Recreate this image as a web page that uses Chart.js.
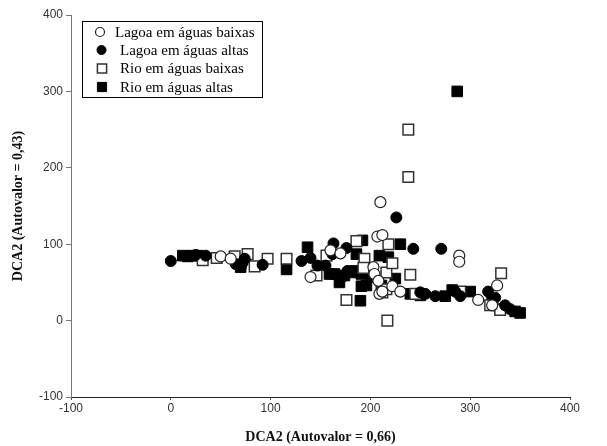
<!DOCTYPE html>
<html>
<head>
<meta charset="utf-8">
<script src="https://cdn.jsdelivr.net/npm/chart.js@4"></script>
<style>
  html, body { margin: 0; padding: 0; background: #fff; }
  #wrap { width: 607px; height: 446px; }
</style>
</head>
<body>
<div id="wrap"><canvas id="chart" width="607" height="446"></canvas></div>
<script>
// series labels
const seriesLabels = ['Lagoa em águas baixas', 'Lagoa em águas altas', 'Rio em águas baixas', 'Rio em águas altas'];

// axis ticks
const xTicks = [-100, 0, 100, 200, 300, 400];
const yTicks = [-100, 0, 100, 200, 300, 400];

// [x, y] pairs
const lagoaBaixas = [
  [50, 84], [60, 81], [140, 57], [160, 92], [170, 88], [203, 70], [204, 61], [208, 52],
  [209, 35], [212, 38], [207, 110], [212, 112], [210, 155], [222, 45], [230, 38],
  [289, 85], [289, 77], [308, 27], [327, 46], [322, 20]
];
const lagoaAltas = [
  [0, 78], [25, 86], [35, 85], [65, 74], [72, 76], [70, 70], [74, 81], [92, 73],
  [131, 78], [140, 82], [147, 72], [155, 72], [163, 101], [176, 95], [162, 87],
  [177, 65], [172, 57], [226, 135], [243, 94], [250, 37], [255, 35], [265, 32],
  [271, 94], [285, 38], [290, 32], [318, 38], [325, 30], [335, 20], [340, 15]
];
const rioBaixas = [
  [32, 79], [46, 82], [64, 84], [77, 87], [84, 71], [97, 81], [116, 81], [146, 59],
  [156, 85], [186, 104], [194, 81], [193, 69], [216, 63], [212, 37], [216, 41],
  [176, 27], [217, 0], [218, 100], [238, 250], [238, 188], [222, 75], [240, 60],
  [245, 35], [290, 38], [331, 62], [320, 20], [330, 14]
];
const rioAltas = [
  [12, 85], [17, 84], [22, 85], [27, 85], [70, 70], [116, 67], [137, 96], [159, 61],
  [169, 50], [174, 59], [183, 63], [191, 45], [196, 46], [201, 57], [164, 61],
  [184, 65], [191, 61], [201, 61], [186, 87], [192, 105], [209, 85], [211, 46],
  [190, 26], [218, 83], [230, 100], [225, 55], [240, 35], [250, 33], [287, 300],
  [275, 32], [282, 40], [300, 38], [322, 28], [330, 15], [345, 12], [350, 10]
];

const toPts = arr => arr.map(p => ({ x: p[0], y: p[1] }));

// legend box drawn inside the plot, like the original
const boxLegend = {
  id: 'boxLegend',
  afterDraw(chart) {
    const ctx = chart.ctx;
    ctx.save();
    ctx.strokeStyle = '#000';
    ctx.lineWidth = 1;
    ctx.strokeRect(82.5, 21.5, 180, 76);
    const rows = [32, 50, 68.5, 87];
    const symX = [100, 101.5, 102, 102];
    const txtX = [115, 120, 120, 120];
    ctx.font = '15px "Liberation Serif", serif';
    ctx.textBaseline = 'middle';
    chart.data.datasets.forEach((ds, i) => {
      ctx.fillStyle = ds.backgroundColor;
      ctx.strokeStyle = ds.borderColor;
      ctx.lineWidth = ds.borderWidth;
      Chart.helpers.drawPoint(ctx, {
        pointStyle: ds.pointStyle,
        radius: ds.pointStyle === 'rect' ? 6.5 : 4.5,
        borderWidth: ds.borderWidth,
        rotation: 0
      }, symX[i], rows[i]);
      ctx.fillStyle = '#000';
      ctx.fillText(ds.label, txtX[i], rows[i] + 1);
    });
    ctx.restore();
  }
};

new Chart(document.getElementById('chart'), {
  type: 'scatter',
  data: {
    datasets: [{
      label: seriesLabels[0],
      data: toPts(lagoaBaixas),
      pointStyle: 'circle',
      pointRadius: 5.5,
      backgroundColor: '#fff',
      borderColor: '#222',
      borderWidth: 1.2
    }, {
      label: seriesLabels[1],
      data: toPts(lagoaAltas),
      pointStyle: 'circle',
      pointRadius: 5.5,
      backgroundColor: '#000',
      borderColor: '#000',
      borderWidth: 1
    }, {
      label: seriesLabels[2],
      data: toPts(rioBaixas),
      pointStyle: 'rect',
      pointRadius: 7.5,
      backgroundColor: '#fff',
      borderColor: '#333',
      borderWidth: 1.5
    }, {
      label: seriesLabels[3],
      data: toPts(rioAltas),
      pointStyle: 'rect',
      pointRadius: 7.5,
      backgroundColor: '#000',
      borderColor: '#000',
      borderWidth: 1
    }]
  },
  options: {
    responsive: false,
    animation: false,
    layout: { padding: { left: 0, top: 15, right: 37, bottom: 0 } },
    plugins: {
      legend: { display: false },
      tooltip: { enabled: false }
    },
    scales: {
      x: {
        type: 'linear',
        min: xTicks[0],
        max: xTicks[xTicks.length - 1],
        afterBuildTicks: s => { s.ticks = xTicks.map(v => ({ value: v })); },
        afterFit: s => { s.height = 49; },
        border: { color: '#222', width: 1 },
        grid: { drawOnChartArea: false, tickLength: 3, color: '#555' },
        ticks: {
          color: '#333',
          padding: 1,
          maxRotation: 0,
          font: { family: '"Liberation Sans", Arial, sans-serif', size: 12 }
        },
        title: {
          display: true,
          text: 'DCA2 (Autovalor = 0,66)',
          color: '#111',
          padding: { top: 1, bottom: 0 },
          font: { family: '"Liberation Serif", "Times New Roman", serif', size: 14, weight: 'bold' }
        }
      },
      y: {
        type: 'linear',
        min: yTicks[0],
        max: yTicks[yTicks.length - 1],
        afterBuildTicks: s => { s.ticks = yTicks.map(v => ({ value: v })); },
        afterFit: s => { s.width = 71; },
        border: { color: '#777', width: 1 },
        grid: { drawOnChartArea: false, tickLength: 5, color: '#777' },
        ticks: {
          color: '#333',
          padding: 3,
          font: { family: '"Liberation Sans", Arial, sans-serif', size: 12 }
        },
        title: {
          display: true,
          text: 'DCA2 (Autovalor = 0,43)',
          color: '#111',
          padding: { top: 10, bottom: 0 },
          font: { family: '"Liberation Serif", "Times New Roman", serif', size: 14, weight: 'bold' }
        }
      }
    }
  },
  plugins: [boxLegend]
});
</script>
</body>
</html>
